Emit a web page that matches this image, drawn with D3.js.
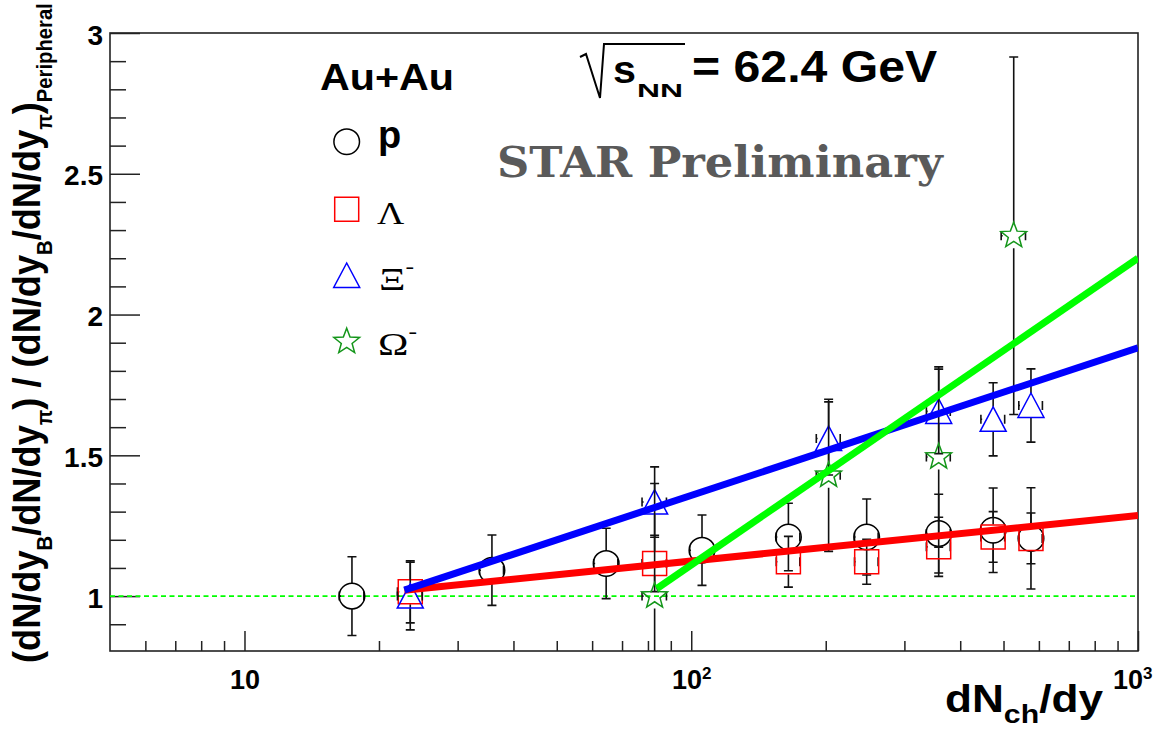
<!DOCTYPE html>
<html>
<head>
<meta charset="utf-8">
<script src="https://cdn.jsdelivr.net/npm/d3@7"></script>
<style>
  body { margin: 0; background: #fff; }
  svg { display: block; }
  text { font-family: "Liberation Sans", Arial, Helvetica, sans-serif; font-weight: bold; }
</style>
</head>
<body>
<div id="chart"></div>
<script>
// ---- data (Au+Au, 62.4 GeV) ----
const protonX    = [17.4, 35.8, 64.5, 105.7, 165, 247, 358, 474, 576];
const protonY    = [1.00, 1.092, 1.116, 1.163, 1.21, 1.21, 1.222, 1.234, 1.205];
const protonErr  = [0.14, 0.125, 0.125, 0.125, 0.12, 0.135, 0.14, 0.15, 0.18];
const protonXErr = [1.1, 2.2, 4.0, 6.5, 10, 15, 22, 29, 35];

const lambdaX    = [23.5, 82.8, 165, 247, 358, 474, 576];
const lambdaY    = [1.015, 1.116, 1.122, 1.122, 1.175, 1.21, 1.205];
const lambdaErr  = [0.11, 0.10, 0.09, 0.08, 0.105, 0.09, 0.09];
const lambdaXErr = [1.5, 5.2, 10, 15, 22, 29, 35];

const xiX    = [23.5, 82.8, 203, 358, 474, 576];
const xiY    = [1.0, 1.334, 1.56, 1.656, 1.628, 1.677];
const xiErr  = [0.12, 0.125, 0.13, 0.15, 0.13, 0.13];
const xiXErr = [1.5, 5.2, 12.5, 22, 29, 35];

const omegaX    = [82.8, 203, 358, 527];
const omegaY    = [1.0, 1.429, 1.494, 2.28];
const omegaErr  = [0.4, 0.27, 0.32, 0.635];
const omegaXErr = [5.2, 12.5, 22, 33];

// fit lines (end points)
const fitNames = ['lambda', 'xi', 'omega'];
const fitX0 = [22.8, 22.8, 83.8];
const fitY0 = [1.021, 1.021, 1.027];
const fitX1 = [1000, 1000, 1000];
const fitY1 = [1.286, 1.882, 2.20];

// axes
const xMajorTicks = [10, 100, 1000];
const xTickBase = ['10', '10', '10'];
const xTickExp = ['', '2', '3'];
const xMinorTicks = [6, 7, 8, 9, 20, 30, 40, 50, 60, 70, 80, 90, 200, 300, 400, 500, 600, 700, 800, 900];
const yMajorTicks = [1, 1.5, 2, 2.5, 3];
const yMinorTicks = [0.9, 1.1, 1.2, 1.3, 1.4, 1.6, 1.7, 1.8, 1.9, 2.1, 2.2, 2.3, 2.4, 2.6, 2.7, 2.8, 2.9];

const W = 1153, H = 737;
const frame = { left: 110, right: 1138, top: 33, bottom: 651 };

const x = d3.scaleLog().domain([5, 1000]).range([frame.left, frame.right]);
const y = d3.scaleLinear().domain([0.805, 3]).range([frame.bottom, frame.top]);

const svg = d3.select('#chart').append('svg')
    .attr('width', W)
    .attr('height', H);

svg.append('defs').append('clipPath').attr('id', 'plotclip')
    .append('rect')
    .attr('x', frame.left).attr('y', frame.top)
    .attr('width', frame.right - frame.left)
    .attr('height', frame.bottom - frame.top);

// ---- axes ----
const axisColor = '#222';
const labelFont = '"Liberation Sans", Arial, sans-serif';

svg.append('g')
    .attr('transform', `translate(${frame.left},0)`)
    .style('color', axisColor)
    .call(d3.axisLeft(y).tickValues(yMinorTicks).tickSizeInner(-16).tickSizeOuter(0).tickFormat(''))
    .call(g => g.select('.domain').remove())
    .call(g => g.selectAll('line').attr('stroke-width', 1.5));

svg.append('g')
    .attr('transform', `translate(${frame.left},0)`)
    .style('color', axisColor)
    .call(d3.axisLeft(y).tickValues(yMajorTicks).tickSizeInner(-30).tickSizeOuter(0).tickPadding(7).tickFormat(d3.format('')))
    .call(g => g.select('.domain').remove())
    .call(g => g.selectAll('line').attr('stroke-width', 1.5))
    .call(g => g.selectAll('text')
        .attr('fill', '#000')
        .attr('dy', '0.40em')
        .style('font-size', '28px')
        .style('font-family', labelFont)
        .style('font-weight', 'bold'));

svg.append('g')
    .attr('transform', `translate(0,${frame.bottom})`)
    .style('color', axisColor)
    .call(d3.axisBottom(x).tickValues(xMinorTicks).tickSizeInner(-10).tickSizeOuter(0).tickFormat(''))
    .call(g => g.select('.domain').remove())
    .call(g => g.selectAll('line').attr('stroke-width', 1.5));

svg.append('g')
    .attr('transform', `translate(0,${frame.bottom})`)
    .style('color', axisColor)
    .call(d3.axisBottom(x).tickValues(xMajorTicks).tickSizeInner(-20).tickSizeOuter(0).tickFormat(''))
    .call(g => g.select('.domain').remove())
    .call(g => g.selectAll('line').attr('stroke-width', 1.5))
    .call(g => g.selectAll('.tick text').each(function (d, i) {
        const t = d3.select(this)
            .attr('y', 38).attr('dy', null)
            .attr('fill', '#000')
            .attr('text-anchor', 'middle')
            .style('font-size', '27px')
            .style('font-family', labelFont)
            .style('font-weight', 'bold')
            .text(xTickBase[i]);
        if (xTickExp[i]) {
            t.append('tspan').attr('dy', -10).style('font-size', '17px').text(xTickExp[i]);
        }
        // keep the last label inside the page
        if (i === xMajorTicks.length - 1) {
            t.attr('text-anchor', 'end').attr('x', W - 1 - x(d));
        }
    }));

// frame
svg.append('rect')
    .attr('x', frame.left).attr('y', frame.top)
    .attr('width', frame.right - frame.left)
    .attr('height', frame.bottom - frame.top)
    .attr('fill', 'none')
    .attr('stroke', axisColor)
    .attr('stroke-width', 1.6);

const plot = svg.append('g').attr('clip-path', 'url(#plotclip)');

// reference line at 1
plot.append('line')
    .attr('x1', x(5)).attr('x2', x(1000))
    .attr('y1', y(1)).attr('y2', y(1))
    .attr('stroke', '#00ff00')
    .attr('stroke-width', 1.6)
    .attr('stroke-dasharray', '5,3.5');

// ---- markers ----
function starPath(r) {
    const pts = [];
    for (let k = 0; k < 10; k++) {
        const a = -Math.PI / 2 + k * Math.PI / 5;
        const rr = k % 2 === 0 ? r : r * 0.42;
        pts.push([rr * Math.cos(a), rr * Math.sin(a)]);
    }
    return 'M' + pts.map(p => p.join(',')).join('L') + 'Z';
}

const markerPaths = {
    circle: d3.symbol(d3.symbolCircle, Math.PI * 12.8 * 12.8)(),
    square: 'M-12,-12H12V12H-12Z',
    triangle: 'M0,-12.5L13,12L-13,12Z',
    star: starPath(13.5)
};

const series = [
    { name: 'p', shape: 'circle', color: '#000', xs: protonX, ys: protonY, err: protonErr, xerr: protonXErr },
    { name: 'lambda', shape: 'square', color: '#ff0000', xs: lambdaX, ys: lambdaY, err: lambdaErr, xerr: lambdaXErr },
    { name: 'xi', shape: 'triangle', color: '#0000ff', xs: xiX, ys: xiY, err: xiErr, xerr: xiXErr },
    { name: 'omega', shape: 'star', color: '#14961a', xs: omegaX, ys: omegaY, err: omegaErr, xerr: omegaXErr }
];

const gapV = 12.5, gapH = 11, capHalf = 4.5;

series.forEach(s => {
    const pts = s.xs.map((xv, i) => ({ x: xv, y: s.ys[i], e: s.err[i], xe: s.xerr[i] }));
    const g = plot.append('g').attr('class', `series-${s.name}`);

    const eb = g.selectAll('g.err').data(pts).enter().append('g')
        .attr('class', 'err')
        .attr('stroke', '#111')
        .attr('stroke-width', 1.6)
        .attr('fill', 'none');

    eb.append('path').attr('d', d => {
        const cx = x(d.x), cy = y(d.y);
        const yt = y(d.y + d.e), yb = y(d.y - d.e);
        const xl = x(d.x - d.xe), xr = x(d.x + d.xe);
        let p = '';
        if (cy - yt > gapV) p += `M${cx},${cy - gapV}V${yt}`;
        if (yb - cy > gapV) p += `M${cx},${cy + gapV}V${yb}`;
        p += `M${cx - capHalf},${yt}H${cx + capHalf}`;
        p += `M${cx - capHalf},${yb}H${cx + capHalf}`;
        if (cx - xl > gapH) p += `M${cx - gapH},${cy}H${xl}`;
        if (xr - cx > gapH) p += `M${cx + gapH},${cy}H${xr}`;
        p += `M${xl},${cy - capHalf}V${cy + capHalf}`;
        p += `M${xr},${cy - capHalf}V${cy + capHalf}`;
        return p;
    });

    g.selectAll('path.marker').data(pts).enter().append('path')
        .attr('class', 'marker')
        .attr('d', markerPaths[s.shape])
        .attr('transform', d => `translate(${x(d.x)},${y(d.y)})`)
        .attr('fill', 'none')
        .attr('stroke', s.color)
        .attr('stroke-width', 1.5);
});

// ---- fit lines ----
const fitColors = ['#ff0000', '#0000ff', '#00ff00'];
const line = d3.line().x(d => x(d[0])).y(d => y(d[1]));
fitNames.forEach((n, i) => {
    plot.append('path')
        .attr('d', line([[fitX0[i], fitY0[i]], [fitX1[i], fitY1[i]]]))
        .attr('stroke', fitColors[i])
        .attr('stroke-width', 7)
        .attr('fill', 'none');
});

// ---- text helpers ----
function richText(parent, parts, opts) {
    const g = parent.append('g');
    const t = g.append('text')
        .attr('x', 0).attr('y', 0)
        .attr('text-anchor', opts.anchor || 'start')
        .attr('fill', opts.fill || '#000')
        .style('font-size', opts.size + 'px');
    if (opts.family) t.style('font-family', opts.family);
    if (opts.weight) t.style('font-weight', opts.weight);
    let shift = 0;
    parts.forEach(p => {
        const ts = t.append('tspan').text(p.t);
        if (p.size) ts.style('font-size', p.size + 'px');
        const sh = p.shift || 0;
        if (sh !== shift) ts.attr('dy', sh - shift);
        shift = sh;
    });
    const bb = t.node().getBBox();
    const sx = opts.width ? opts.width / bb.width : 1;
    g.attr('transform', `translate(${opts.x},${opts.y}) scale(${sx},1)`);
    return g;
}

// legend
richText(svg, [{ t: 'Au+Au' }], { x: 320, y: 90, size: 37, width: 134 });

const legendRows = [
    { shape: 'circle', color: '#000', y: 141.7 },
    { shape: 'square', color: '#ff0000', y: 209.3 },
    { shape: 'triangle', color: '#0000ff', y: 275.5 },
    { shape: 'star', color: '#14961a', y: 341.7 }
];
legendRows.forEach(r => {
    svg.append('path')
        .attr('d', markerPaths[r.shape])
        .attr('transform', `translate(346.7,${r.y})`)
        .attr('fill', 'none')
        .attr('stroke', r.color)
        .attr('stroke-width', 1.5);
});
const serif = '"Liberation Serif", "Times New Roman", serif';
richText(svg, [{ t: 'p' }], { x: 378, y: 148, size: 38 });
richText(svg, [{ t: 'Λ' }], { x: 377, y: 224, size: 31, width: 28, family: serif, weight: 'normal' });
richText(svg, [{ t: 'Ξ' }, { t: '-', size: 20, shift: -17 }], { x: 379, y: 290, size: 32, width: 35, family: serif, weight: 'normal' });
richText(svg, [{ t: 'Ω' }, { t: '-', size: 20, shift: -17 }], { x: 378, y: 355, size: 32, width: 39, family: serif, weight: 'normal' });

// energy label
svg.append('path')
    .attr('d', 'M580,57L586,54L600,98L604,44H685')
    .attr('fill', 'none')
    .attr('stroke', '#000')
    .attr('stroke-width', 2);
richText(svg, [{ t: 's' }], { x: 613, y: 83, size: 39, width: 23 });
richText(svg, [{ t: 'NN' }], { x: 637, y: 97, size: 19, width: 46 });
richText(svg, [{ t: '= 62.4 GeV' }], { x: 692, y: 82, size: 44, width: 246 });

// preliminary tag
richText(svg, [{ t: 'STAR Preliminary' }], {
    x: 497, y: 177, size: 43, width: 448,
    family: '"DejaVu Serif", serif', fill: '#5a5a5a'
});

// x-axis title
richText(svg, [
    { t: 'dN' }, { t: 'ch', size: 26, shift: 11 }, { t: '/dy' }
], { x: 945, y: 712, size: 38, width: 158 });

// y-axis title (rotated)
(function () {
    const sub = 19, sh = 11;
    const parts = [
        { t: '(dN/dy' }, { t: 'B', size: sub, shift: sh },
        { t: '/dN/dy' }, { t: 'π', size: sub, shift: sh },
        { t: ') / (dN/dy' }, { t: 'B', size: sub, shift: sh },
        { t: '/dN/dy' }, { t: 'π', size: sub, shift: sh },
        { t: ')' }, { t: 'Peripheral', size: sub, shift: sh }
    ];
    const g = svg.append('g');
    const t = g.append('text').attr('fill', '#000').style('font-size', '34px');
    let shift = 0;
    parts.forEach(p => {
        const ts = t.append('tspan').text(p.t);
        if (p.size) ts.style('font-size', p.size + 'px');
        const s = p.shift || 0;
        if (s !== shift) ts.attr('dy', s - shift);
        shift = s;
    });
    const len = t.node().getBBox().width;
    const k = (663 - 3) / len;
    g.attr('transform', `translate(40,663) scale(1.12,${k}) rotate(-90)`);
})();
</script>
</body>
</html>
